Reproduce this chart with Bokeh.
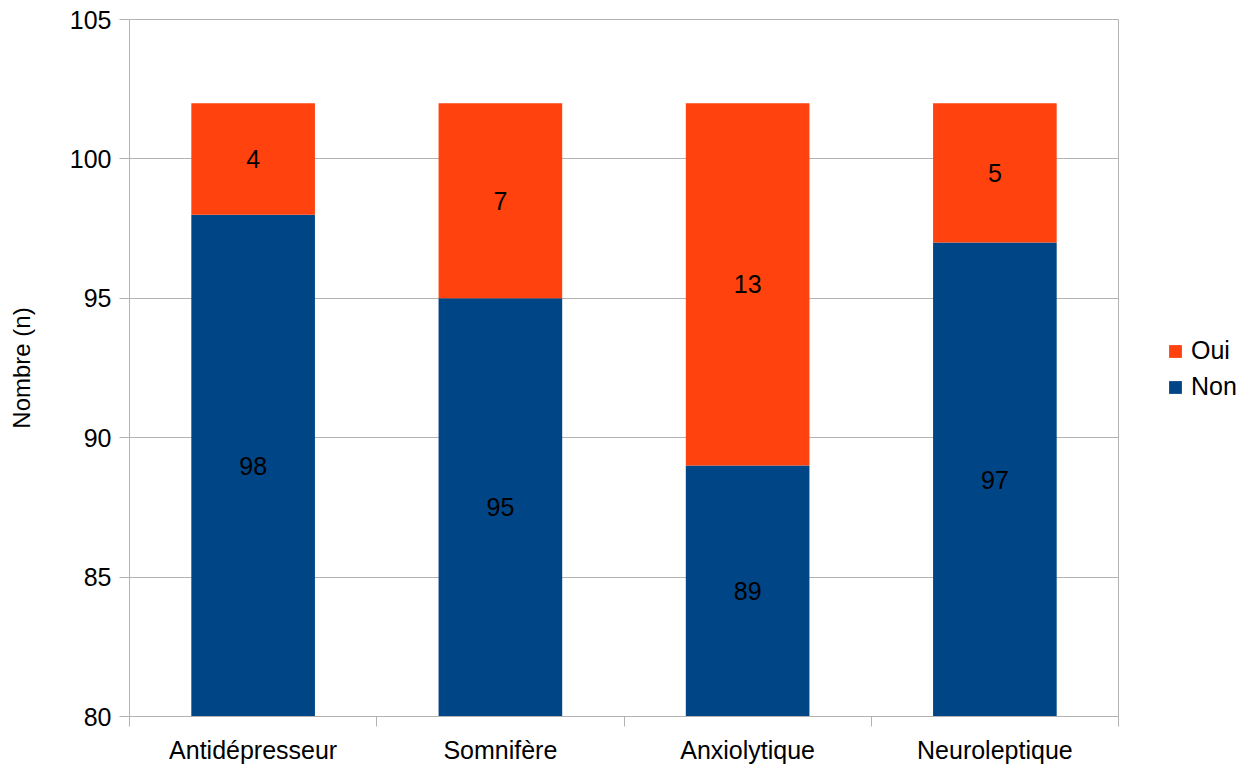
from bokeh.plotting import figure
from bokeh.models import (ColumnDataSource, Range1d, FixedTicker, Legend, LegendItem)
from bokeh.core.properties import value
from bokeh.embed import file_html
from bokeh.resources import INLINE

categories = ["Antidépresseur", "Somnifère", "Anxiolytique", "Neuroleptique"]
non_values = [98, 95, 89, 97]
oui_values = [4, 7, 13, 5]
y_ticks = [80, 85, 90, 95, 100, 105]

BLUE = "#004586"
ORANGE = "#ff420e"
GRID = "#b3b3b3"
FONT = "Liberation Sans"
Y0, Y1 = 80, 105

xs = [i + 0.5 for i in range(len(categories))]
src = ColumnDataSource(dict(
    x=xs, non=non_values, oui=oui_values,
    non_lbl=[str(v) for v in non_values],
    oui_lbl=[str(v) for v in oui_values],
    non_mid=[(Y0 + n) / 2 for n in non_values],
    oui_mid=[n + o / 2 for n, o in zip(non_values, oui_values)],
))

p = figure(frame_width=989, frame_height=697, output_backend="svg", toolbar_location=None,
           x_range=Range1d(0, len(categories)), y_range=Range1d(Y0, Y1),
           min_border_left=129, min_border_right=124, min_border_top=19,
           min_border_bottom=43)
p.background_fill_color = "white"
p.border_fill_color = "white"
p.outline_line_color = GRID

r = p.vbar_stack(["non", "oui"], x="x", width=0.5, color=[BLUE, ORANGE],
                 line_color=None, source=src)

p.text(x="x", y="non_mid", text="non_lbl", source=src, text_align="center",
       text_baseline="middle", text_font=value(FONT), text_font_size="25px",
       text_color="black")
p.text(x="x", y="oui_mid", text="oui_lbl", source=src, text_align="center",
       text_baseline="middle", text_font=value(FONT), text_font_size="25px",
       text_color="black")

# x axis: labels at category centres, separator ticks at boundaries
p.xaxis.ticker = FixedTicker(ticks=xs, minor_ticks=list(range(len(categories) + 1)))
p.xaxis.major_label_overrides = {x: c for x, c in zip(xs, categories)}
p.xaxis.major_tick_out = 0
p.xaxis.major_tick_in = 0
p.xaxis.minor_tick_out = 10
p.xaxis.minor_tick_in = 0
p.xaxis.minor_tick_line_color = GRID
p.xaxis.axis_line_color = GRID
p.xaxis.major_label_standoff = 9
p.xaxis.major_label_text_font = FONT
p.xaxis.major_label_text_font_size = "25px"
p.xaxis.major_label_text_color = "black"
p.xgrid.grid_line_color = None

p.yaxis.ticker = FixedTicker(ticks=y_ticks)
p.yaxis.minor_tick_line_color = None
p.yaxis.major_tick_out = 10
p.yaxis.major_tick_in = 0
p.yaxis.major_tick_line_color = GRID
p.yaxis.axis_line_color = GRID
p.yaxis.major_label_standoff = 8
p.yaxis.major_label_text_font = FONT
p.yaxis.major_label_text_font_size = "25px"
p.yaxis.major_label_text_color = "black"
p.yaxis.axis_label = "Nombre (n)"
p.yaxis.axis_label_text_font = FONT
p.yaxis.axis_label_text_font_size = "24px"
p.yaxis.axis_label_text_font_style = "normal"
p.yaxis.axis_label_text_color = "black"
p.yaxis.axis_label_standoff = 32
p.ygrid.grid_line_color = GRID
p.ygrid.grid_line_width = 1

legend = Legend(items=[LegendItem(label="Oui", renderers=[r[1]]),
                       LegendItem(label="Non", renderers=[r[0]])],
                location=(49, 315), border_line_color=None,
                background_fill_alpha=0, glyph_width=16, glyph_height=16,
                label_text_font=FONT, label_text_font_size="25px",
                label_text_color="black",
                label_standoff=8, spacing=7, padding=0, margin=0)
p.add_layout(legend, "right")

open("out.html", "w").write(file_html(p, INLINE))
